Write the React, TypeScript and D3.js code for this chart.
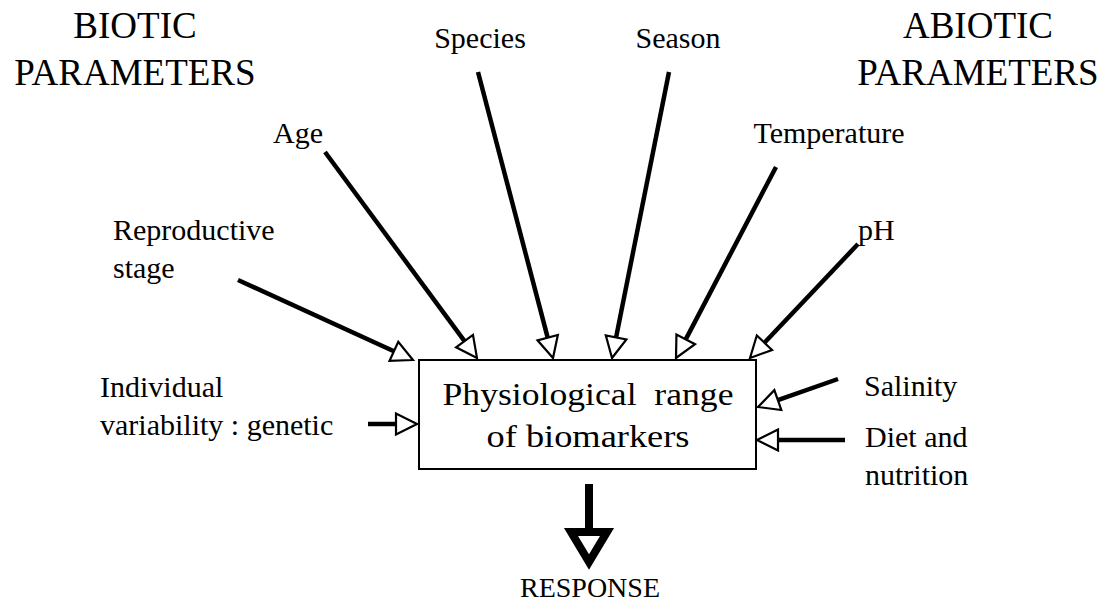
import * as d3 from "d3";

// factor labels (each entry is the lines of one label)
const bioticLabels = [["Age"], ["Species"], ["Reproductive", "stage"], ["Individual", "variability : genetic"]];
const abioticLabels = [["Season"], ["Temperature"], ["pH"], ["Salinity"], ["Diet and", "nutrition"]];
const headings = [["BIOTIC", "PARAMETERS"], ["ABIOTIC", "PARAMETERS"]];
const boxLines = ["Physiological  range", "of biomarkers"];
const responseLabel = "RESPONSE";

// label anchors [x, baseline, anchor]
const bioticLabelPos: [number, number, string][] = [
  [298, 143, "middle"], [480, 48, "middle"], [113, 240, "start"], [100, 397, "start"],
];
const abioticLabelPos: [number, number, string][] = [
  [678, 48, "middle"], [829, 143, "middle"], [858, 240, "start"], [864, 396, "start"], [865, 447, "start"],
];
// arrows: tail -> tip
const bioticArrows: [number, number, number, number][] = [
  [325, 152, 477, 358], [478, 72, 553, 358], [238, 280, 413, 360], [368, 424, 417, 424],
];
const abioticArrows: [number, number, number, number][] = [
  [669, 72, 612, 358], [776, 167, 676, 358], [858, 244, 750, 358], [838, 379, 758, 407], [845, 440, 757, 440],
];

const W = 1108, H = 614;
const x = d3.scaleLinear([0, W], [0, W]);
const y = d3.scaleLinear([0, H], [0, H]);
const font = "'Liberation Serif', 'Times New Roman', serif";

function Arrow({ a }: { a: [number, number, number, number] }) {
  const [x1, y1, x2, y2] = a.map((v, i) => (i % 2 ? y(v) : x(v)));
  const len = Math.hypot(x2 - x1, y2 - y1);
  const ux = (x2 - x1) / len, uy = (y2 - y1) / len;
  const hl = 21, hw = 10.5;
  const bx = x2 - ux * hl, by = y2 - uy * hl;
  const head = [
    [x2, y2],
    [bx - uy * hw, by + ux * hw],
    [bx + uy * hw, by - ux * hw],
  ];
  return (
    <g>
      <line x1={x1} y1={y1} x2={bx} y2={by} stroke="#000" strokeWidth={4.5} />
      <path d={d3.line()(head as [number, number][]) + "Z"} fill="#fff" stroke="#000" strokeWidth={2.2} strokeLinejoin="miter" />
    </g>
  );
}

function Label({ lines, pos }: { lines: string[]; pos: [number, number, string] }) {
  return (
    <text x={x(pos[0])} y={y(pos[1])} textAnchor={pos[2] as any} fontFamily={font} fontSize={30}>
      {lines.map((l, i) => (
        <tspan key={i} x={x(pos[0])} dy={i === 0 ? 0 : 38}>{l}</tspan>
      ))}
    </text>
  );
}

export default function App() {
  const box = { x0: x(419), x1: x(756), y0: y(360), y1: y(469) };
  const sx = x(589);
  return (
    <svg width={W} height={H} style={{ position: "absolute", left: 0, top: 0, background: "#fff" }}>
      {headings.map((h, i) => (
        <text key={i} x={x(i === 0 ? 135 : 978)} textAnchor="middle" fontFamily={font} fontSize={37}>
          <tspan x={x(i === 0 ? 135 : 978)} y={y(38)}>{h[0]}</tspan>
          <tspan x={x(i === 0 ? 135 : 978)} y={y(85)}>{h[1]}</tspan>
        </text>
      ))}
      {bioticLabels.map((l, i) => <Label key={"b" + i} lines={l} pos={bioticLabelPos[i]} />)}
      {abioticLabels.map((l, i) => <Label key={"a" + i} lines={l} pos={abioticLabelPos[i]} />)}
      {bioticArrows.map((a, i) => <Arrow key={"ba" + i} a={a} />)}
      {abioticArrows.map((a, i) => <Arrow key={"aa" + i} a={a} />)}

      <rect x={box.x0} y={box.y0} width={box.x1 - box.x0} height={box.y1 - box.y0} fill="none" stroke="#000" strokeWidth={2} />
      <text x={x(588)} y={y(405)} textAnchor="middle" fontFamily={font} fontSize={32} textLength={291} lengthAdjust="spacingAndGlyphs" style={{ whiteSpace: "pre" }}>{boxLines[0]}</text>
      <text x={x(588)} y={y(447)} textAnchor="middle" fontFamily={font} fontSize={32} textLength={203} lengthAdjust="spacingAndGlyphs">{boxLines[1]}</text>

      {/* response arrow */}
      <line x1={sx} y1={y(484)} x2={sx} y2={y(532)} stroke="#000" strokeWidth={8} />
      <path d={d3.line()([[x(571), y(532)], [x(607), y(532)], [sx, y(562)]]) + "Z"} fill="#fff" stroke="#000" strokeWidth={8} strokeLinejoin="miter" />
      <text x={x(590)} y={y(597)} textAnchor="middle" fontFamily={font} fontSize={28}>{responseLabel}</text>
    </svg>
  );
}
